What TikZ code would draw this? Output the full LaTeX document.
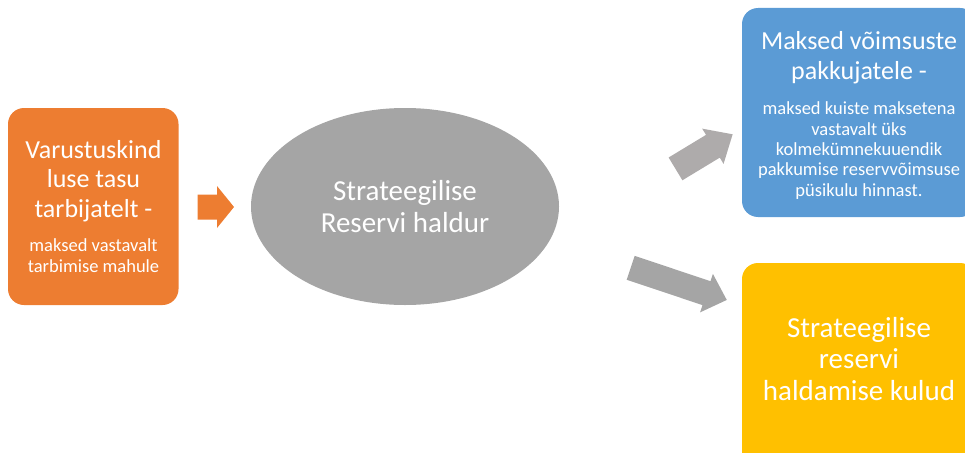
\documentclass[tikz,border=0pt]{standalone}
\usepackage{fontspec}
\setmainfont{Carlito}
\usetikzlibrary{shapes.geometric}
\definecolor{cOrange}{HTML}{ED7D31}
\definecolor{cGrey}{HTML}{A5A5A5}
\definecolor{cGreyB}{HTML}{AEABAB}
\definecolor{cBlue}{HTML}{5B9BD5}
\definecolor{cYellow}{HTML}{FFC000}
\tikzset{
  box/.style={fill=#1, draw=none, rounded corners=16pt, inner sep=0pt},
  txt/.style={text=white, align=center, inner sep=0pt, anchor=base},
  bigtxt/.style={txt, font=\fontsize{26}{29.5}\selectfont},
  hugetxt/.style={txt, font=\fontsize{29}{31.5}\selectfont},
  smalltxt/.style={txt, font=\fontsize{18.5}{20.3}\selectfont},
}
% \blockarrow{base}{angle}{length}{shaft half}{head half}{head length}{colour}
\newcommand{\blockarrow}[7]{%
  \begin{scope}[shift={#1}, rotate=#2]
    \fill[#7] (0,-#4) -- ({#3-#6},-#4) -- ({#3-#6},-#5) -- (#3,0)
      -- ({#3-#6},#5) -- ({#3-#6},#4) -- (0,#4) -- cycle;
  \end{scope}}
\begin{document}
\begin{tikzpicture}[x=1pt,y=-1pt]
  \useasboundingbox (0,0) rectangle (965,452);
  \begin{scope}
    \clip (0,0) rectangle (965,452);
    % boxes
    \path[box=cOrange] (8,108) rectangle (178.5,305);
    \node (src) at (93.25,206.5) {};
    \path[box=cBlue] (742,8) rectangle (976,217);
    \node (pay) at (859,112.5) {};
    \path[box=cYellow] (742,263) rectangle (976,470);
    \node (cost) at (859,366) {};
    \node[ellipse, fill=cGrey, minimum width=308pt, minimum height=197pt, inner sep=0pt] (mgr) at (405,206.5) {};
    % texts (anchored at the baseline of the last line)
    \node[bigtxt] (srcT) at (93.5,217) {Varustuskind\\luse tasu\\tarbijatelt -};
    \node[smalltxt] (srcS) at (93.5,272) {maksed vastavalt\\tarbimise mahule};
    \node[hugetxt] (mgrT) at (405,232) {Strateegilise\\Reservi haldur};
    \node[bigtxt] (payT) at (859,79) {Maksed võimsuste\\pakkujatele -};
    \node[smalltxt] (payS) at (859,196) {maksed kuiste maksetena\\vastavalt üks\\kolmekümnekuuendik\\pakkumise reservvõimsuse\\püsikulu hinnast.};
    \node[hugetxt] (costT) at (859,400) {Strateegilise\\reservi\\haldamise kulud};
    % block arrows
    \blockarrow{(197.5,207)}{0}{36.5}{12.5}{21}{17}{cOrange}
    \blockarrow{(675.5,168.9)}{31.2}{66.8}{13.3}{20.6}{23.1}{cGreyB}
    \blockarrow{(630.7,267.8)}{-18.5}{101.3}{12.6}{20.3}{21.4}{cGrey}
  \end{scope}
\end{tikzpicture}
\end{document}
